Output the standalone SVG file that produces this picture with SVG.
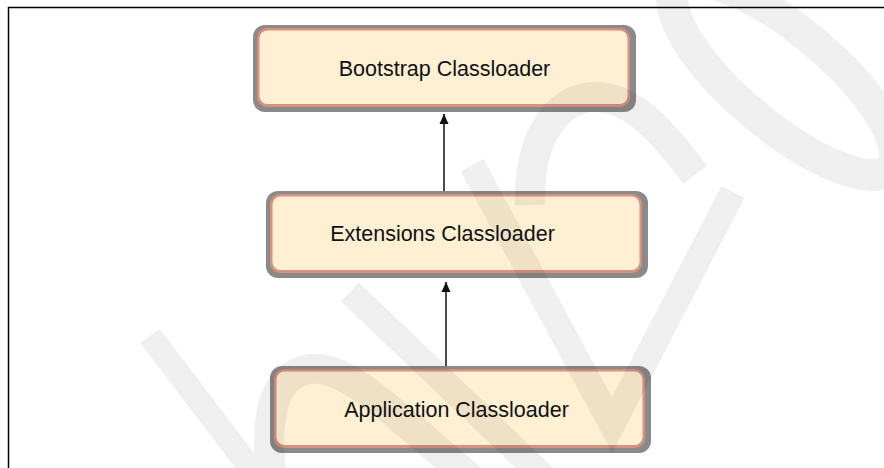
<svg xmlns="http://www.w3.org/2000/svg" width="884" height="468" viewBox="0 0 884 468">
  <style>
    .frame { stroke: #000; stroke-width: 1.5; fill: none; }
    .edge { fill: #8a8a8a; }
    .rim { fill: #d9917f; }
    .body { fill: #fff0d4; }
    .label { font-family: "Liberation Sans", Arial, sans-serif; font-size: 21.5px; fill: #111; text-anchor: middle; }
    .link { stroke: #111; stroke-width: 1.5; fill: none; }
    .wm { stroke: #000; fill: none; stroke-linecap: butt; }
  </style>
  <defs>
    <marker id="head" viewBox="0 0 10 16" refX="10" refY="8" markerWidth="10" markerHeight="16" markerUnits="userSpaceOnUse" orient="auto">
      <path d="M0,3.5 L10,8 L0,12.5 Z" fill="#111"/>
    </marker>
  </defs>

  <rect width="884" height="468" fill="#fff"/>

  <!-- frame -->
  <path class="frame" d="M8.5,468 L8.5,7.5 L884,7.5"/>

  <!-- connectors -->
  <g id="connectors">
    <line class="link" x1="444" y1="191" x2="444" y2="114" marker-end="url(#head)"/>
    <line class="link" x1="446" y1="366" x2="446" y2="282" marker-end="url(#head)"/>
  </g>

  <!-- nodes: grey edge, salmon rim, cream body -->
  <g id="bootstrap">
    <rect class="edge" x="253" y="25" width="383" height="87" rx="12"/>
    <rect class="rim" x="257" y="28" width="373" height="79" rx="10"/>
    <rect class="body" x="259.5" y="30.5" width="368" height="73.5" rx="8"/>
    <text class="label" x="444.5" y="76">Bootstrap Classloader</text>
  </g>
  <g id="extensions">
    <rect class="edge" x="266" y="191" width="382" height="87" rx="12"/>
    <rect class="rim" x="270" y="194" width="372" height="79" rx="10"/>
    <rect class="body" x="272.5" y="196.5" width="367" height="73.5" rx="8"/>
    <text class="label" x="442.5" y="240.5">Extensions Classloader</text>
  </g>
  <g id="application">
    <rect class="edge" x="270" y="366" width="381" height="87" rx="12"/>
    <rect class="rim" x="274" y="369" width="371" height="79" rx="10"/>
    <rect class="body" x="276.5" y="371.5" width="366" height="73.5" rx="8"/>
    <text class="label" x="456.5" y="416.5">Application Classloader</text>
  </g>

  <!-- faint background mark over the page -->
  <g opacity="0.065">
    <path class="wm" stroke-width="24" d="M150,336 L258,478"/>
    <path class="wm" stroke-width="30" d="M272,478 C264,420 272,374 310,369 C345,365 385,405 470,478"/>
    <path class="wm" stroke-width="26" d="M350,292 L545,478"/>
    <path class="wm" stroke-width="26" d="M472,165 L612,425 L733,192"/>
    <path class="wm" stroke-width="30" d="M530,205 C528,140 555,100 592,97 C625,95 655,120 695,175"/>
    <ellipse class="wm" stroke-width="32" cx="784" cy="78" rx="140" ry="47" transform="rotate(40 784 78)"/>
  </g>
</svg>
